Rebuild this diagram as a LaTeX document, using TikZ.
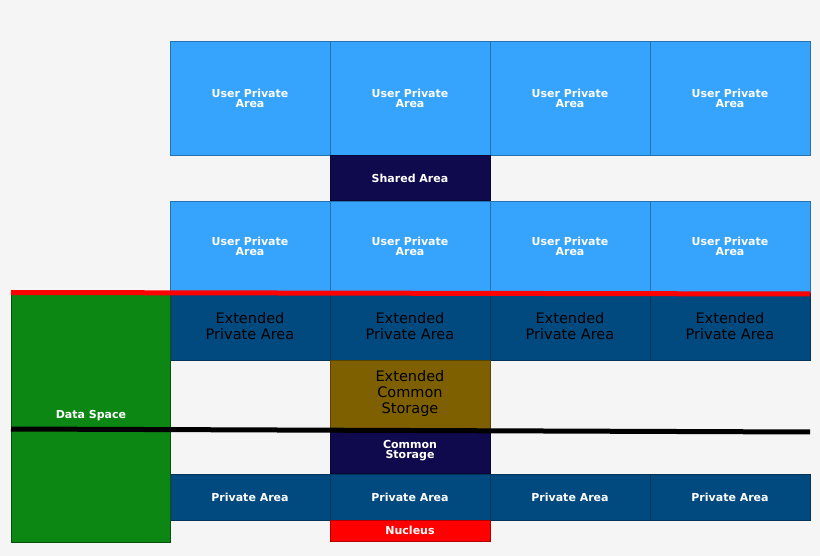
\documentclass[tikz,border=0pt]{standalone}
\usepackage{fontspec}
\setmainfont{DejaVu Sans}
\begin{document}
\begin{tikzpicture}[x=1pt,y=-1pt,
  box/.style={draw=#1!70!black,line width=0.6pt,fill=#1},
  bt/.style={text=white,font=\bfseries\fontsize{11}{12}\selectfont,align=center},
  et/.style={text=black,font=\fontsize{14.5}{24}\selectfont,align=center}]
\definecolor{lb}{HTML}{36A3FC}
\definecolor{db}{HTML}{004A80}
\definecolor{nv}{HTML}{0F0A4E}
\definecolor{ol}{HTML}{7F6000}
\definecolor{gr}{HTML}{0C8714}
\definecolor{bg}{HTML}{F5F5F5}
\fill[bg] (0,0) rectangle (820,556);
\useasboundingbox (0,0) rectangle (820,556);
\foreach \i in {0,1,2,3}{
  \pgfmathsetmacro\xa{170+160*\i}
  \draw[box=lb] (\xa,41) rectangle ++(160,114);
  \node[bt] (u\i) at (\xa+80,98) {User Private\\[-2pt]Area};
  \draw[box=lb] (\xa,201) rectangle ++(160,91);
  \node[bt] (v\i) at (\xa+80,246) {User Private\\[-2pt]Area};
  \draw[box=db] (\xa,293) rectangle ++(160,67);
  \node[et] (e\i) at (\xa+80,326) {Extended\\[-8pt]Private Area};
  \draw[box=db] (\xa,474) rectangle ++(160,46);
  \node[bt] (p\i) at (\xa+80,497) {Private Area};
}
\draw[box=nv] (330,155) rectangle (490,200);
\node[bt] (sh) at (410,178) {Shared Area};
\draw[box=ol] (330,360) rectangle (490,430);
\node[et] (ecs) at (410,393) {Extended\\[-8pt]Common\\[-8pt]Storage};
\draw[box=nv] (330,430) rectangle (490,473);
\node[bt] (cs) at (410,451) {Common\\[-2pt]Storage};
\draw[box=red] (330,520) rectangle (490,541);
\node[bt] (nu) at (410,530) {Nucleus};
\draw[draw=gr!60!black,fill=gr,line width=0.6pt] (11,293) rectangle (170,542);
\node[bt] (ds) at (91,416) {Data Space};
\coordinate (r1) at (11,292.5); \coordinate (r2) at (810,294);
\draw[red,line width=5pt] (r1) -- (r2);
\coordinate (k1) at (11,429); \coordinate (k2) at (810,432);
\draw[black,line width=5pt] (k1) -- (k2);
\end{tikzpicture}
\end{document}
